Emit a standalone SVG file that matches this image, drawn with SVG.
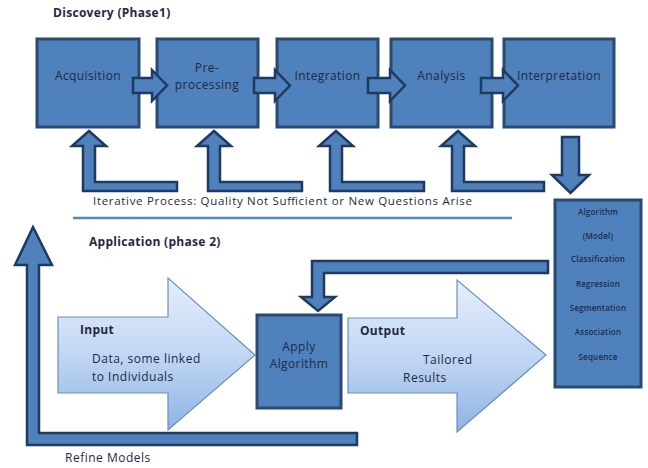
<svg xmlns="http://www.w3.org/2000/svg" width="648" height="468" viewBox="0 0 648 468">
<defs>
<style>
.box{fill:#4f81bd;stroke:#2a4a72;stroke-width:3}
.arr{fill:#4f81bd;stroke:#1f3a5f;stroke-width:2.5;stroke-linejoin:miter}
.big{stroke:#6a8fc0;stroke-width:1.2;fill:url(#g)}
.t{font-family:"Open Sans","Liberation Sans",sans-serif;fill:#1f2a3f}
.lbl{font-size:12px;letter-spacing:0.4px;text-anchor:middle}
.sm{font-size:8px;font-weight:600;letter-spacing:0.2px;text-anchor:middle;fill:#1c2c4c}
.b{font-weight:bold;font-size:12px;letter-spacing:0.3px}
.n{font-size:12px;letter-spacing:0.5px}
</style>
<linearGradient id="g" x1="0" y1="0" x2="0" y2="1">
<stop offset="0" stop-color="#e6effb"/>
<stop offset="0.5" stop-color="#c2d7f3"/>
<stop offset="1" stop-color="#8fb3e4"/>
</linearGradient>
</defs>
<rect width="648" height="468" fill="#ffffff"/>

<text class="t b" x="53" y="17">Discovery (Phase1)</text>

<g id="acquisition"><rect class="box" x="37" y="39" width="102" height="88"/><text class="t lbl" x="88" y="80">Acquisition</text></g>
<g id="preprocessing"><rect class="box" x="157" y="39" width="101" height="88"/><text class="t lbl" x="207" y="72">Pre-</text><text class="t lbl" x="207" y="89">processing</text></g>
<g id="integration"><rect class="box" x="277" y="39" width="101" height="88"/><text class="t lbl" x="327.5" y="80">Integration</text></g>
<g id="analysis"><rect class="box" x="391" y="39" width="101" height="88"/><text class="t lbl" x="441.5" y="80">Analysis</text></g>
<g id="interpretation"><rect class="box" x="504" y="39" width="110" height="88"/><text class="t lbl" x="559" y="80">Interpretation</text></g>

<g id="connectors">
<polygon class="arr" points="133,78 152,78 152,70 167,85.5 152,101 152,93 133,93"/>
<polygon class="arr" points="254,78 275,78 275,70 290,85.5 275,101 275,93 254,93"/>
<polygon class="arr" points="368,78 390,78 390,70 405,85.5 390,101 390,93 368,93"/>
<polygon class="arr" points="481,78 503,78 503,70 518,85.5 503,101 503,93 481,93"/>

<polygon class="arr" points="89,131 106,146 95,146 95,182 177,182 177,191 83,191 83,146 72,146"/>
<polygon class="arr" points="214,131 231,146 220,146 220,182 302,182 302,191 208,191 208,146 197,146"/>
<polygon class="arr" points="336,131 353,146 342,146 342,182 424,182 424,191 330,191 330,146 319,146"/>
<polygon class="arr" points="458,131 475,146 464,146 464,182 544,182 544,191 452,191 452,146 441,146"/>

<polygon class="arr" points="562,137 579,137 579,175 589,175 570.5,193 552,175 562,175"/>

<polygon class="arr" points="548,261 548,273 324,273 324,297 335,297 318,311 301,297 312,297 312,261"/>

<polygon class="arr" points="33,227 52,265 39,265 39,433 357,433 357,445 27,445 27,265 15,265"/>
</g>

<text class="t" font-size="11.5" x="93" y="205" textLength="379" lengthAdjust="spacing">Iterative Process: Quality Not Sufficient or New Questions Arise</text>
<line x1="73" y1="218" x2="512" y2="218" stroke="#5b86bd" stroke-width="2.5"/>
<text class="t b" x="89" y="246">Application (phase 2)</text>

<g id="algorithm">
<rect class="box" x="555" y="200" width="86" height="187"/>
<text class="t sm" x="598" y="215">Algorithm</text>
<text class="t sm" x="598" y="239">(Model)</text>
<text class="t sm" x="598" y="262">Classification</text>
<text class="t sm" x="598" y="287">Regression</text>
<text class="t sm" x="598" y="311">Segmentation</text>
<text class="t sm" x="598" y="335">Association</text>
<text class="t sm" x="598" y="360">Sequence</text>
</g>

<g id="input">
<polygon class="big" points="58,317 168,317 168,278 255,355 168,430 168,393 58,393"/>
<text class="t b" x="80" y="334">Input</text>
<text class="t n" x="92" y="363">Data, some linked</text>
<text class="t n" x="92" y="381">to Individuals</text>
</g>

<g id="apply">
<rect class="box" x="257" y="315" width="84" height="93"/>
<text class="t lbl" x="299" y="351">Apply</text>
<text class="t lbl" x="299" y="368">Algorithm</text>
</g>

<g id="output">
<polygon class="big" points="348,318 457,318 457,280 546,355 457,432 457,393 348,393"/>
<text class="t b" x="360" y="335">Output</text>
<text class="t n" x="423" y="364">Tailored</text>
<text class="t n" x="403" y="382">Results</text>
</g>

<text class="t n" x="65" y="462">Refine Models</text>
</svg>
